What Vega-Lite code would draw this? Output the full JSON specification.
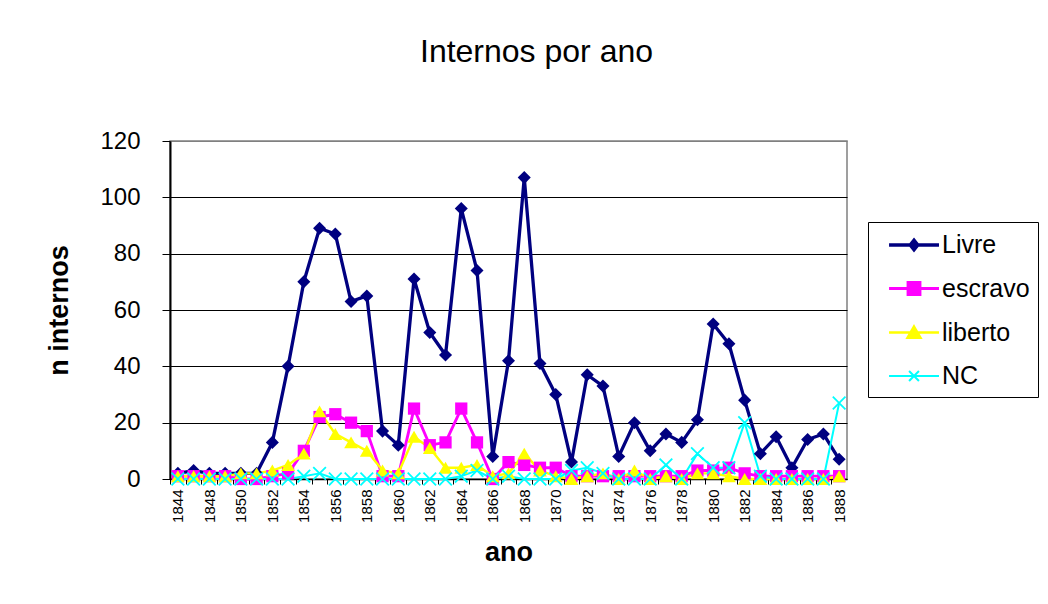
{
  "$schema": "https://vega.github.io/schema/vega-lite/v6.json",
  "autosize": "none",
  "width": 677,
  "height": 338,
  "padding": {"left": 170, "top": 141, "right": 201, "bottom": 125},
  "background": "white",
  "title": {
    "text": "Internos por ano",
    "font": "Liberation Sans",
    "fontSize": 32,
    "fontWeight": "normal",
    "color": "black",
    "anchor": "middle",
    "dx": 28,
    "offset": 60
  },
  "data": {
    "values": [
      {"ano": 1844, "Livre": 2, "escravo": 1, "liberto": 1, "NC": 0},
      {"ano": 1845, "Livre": 3, "escravo": 1, "liberto": 1, "NC": 0},
      {"ano": 1848, "Livre": 2, "escravo": 1, "liberto": 1, "NC": 0},
      {"ano": 1849, "Livre": 2, "escravo": 1, "liberto": 1, "NC": 0},
      {"ano": 1850, "Livre": 2, "escravo": 0, "liberto": 2, "NC": 0},
      {"ano": 1851, "Livre": 2, "escravo": 0, "liberto": 2, "NC": 0},
      {"ano": 1852, "Livre": 13, "escravo": 1, "liberto": 3, "NC": 0},
      {"ano": 1853, "Livre": 40, "escravo": 2, "liberto": 5, "NC": 0},
      {"ano": 1854, "Livre": 70, "escravo": 10, "liberto": 9, "NC": 1},
      {"ano": 1855, "Livre": 89, "escravo": 22, "liberto": 24, "NC": 2},
      {"ano": 1856, "Livre": 87, "escravo": 23, "liberto": 16, "NC": 0},
      {"ano": 1857, "Livre": 63, "escravo": 20, "liberto": 13, "NC": 0},
      {"ano": 1858, "Livre": 65, "escravo": 17, "liberto": 10, "NC": 0},
      {"ano": 1859, "Livre": 17, "escravo": 1, "liberto": 3, "NC": 0},
      {"ano": 1860, "Livre": 12, "escravo": 1, "liberto": 2, "NC": 0},
      {"ano": 1861, "Livre": 71, "escravo": 25, "liberto": 15, "NC": 0},
      {"ano": 1862, "Livre": 52, "escravo": 12, "liberto": 11, "NC": 0},
      {"ano": 1863, "Livre": 44, "escravo": 13, "liberto": 4, "NC": 0},
      {"ano": 1864, "Livre": 96, "escravo": 25, "liberto": 4, "NC": 1},
      {"ano": 1865, "Livre": 74, "escravo": 13, "liberto": 5, "NC": 3},
      {"ano": 1866, "Livre": 8, "escravo": 0, "liberto": 1, "NC": 0},
      {"ano": 1867, "Livre": 42, "escravo": 6, "liberto": 2, "NC": 1},
      {"ano": 1868, "Livre": 107, "escravo": 5, "liberto": 9, "NC": 0},
      {"ano": 1869, "Livre": 41, "escravo": 4, "liberto": 3, "NC": 0},
      {"ano": 1870, "Livre": 30, "escravo": 4, "liberto": 1, "NC": 0},
      {"ano": 1871, "Livre": 6, "escravo": 1, "liberto": 0, "NC": 3},
      {"ano": 1872, "Livre": 37, "escravo": 1, "liberto": 1, "NC": 4},
      {"ano": 1873, "Livre": 33, "escravo": 1, "liberto": 2, "NC": 2},
      {"ano": 1874, "Livre": 8, "escravo": 1, "liberto": 0, "NC": 0},
      {"ano": 1875, "Livre": 20, "escravo": 1, "liberto": 3, "NC": 0},
      {"ano": 1876, "Livre": 10, "escravo": 1, "liberto": 0, "NC": 0},
      {"ano": 1877, "Livre": 16, "escravo": 1, "liberto": 1, "NC": 5},
      {"ano": 1878, "Livre": 13, "escravo": 1, "liberto": 0, "NC": 0},
      {"ano": 1879, "Livre": 21, "escravo": 3, "liberto": 2, "NC": 9},
      {"ano": 1880, "Livre": 55, "escravo": 3, "liberto": 2, "NC": 4},
      {"ano": 1881, "Livre": 48, "escravo": 4, "liberto": 1, "NC": 4},
      {"ano": 1882, "Livre": 28, "escravo": 2, "liberto": 0, "NC": 20},
      {"ano": 1883, "Livre": 9, "escravo": 1, "liberto": 0, "NC": 1},
      {"ano": 1884, "Livre": 15, "escravo": 1, "liberto": 0, "NC": 0},
      {"ano": 1885, "Livre": 4, "escravo": 1, "liberto": 0, "NC": 0},
      {"ano": 1886, "Livre": 14, "escravo": 1, "liberto": 0, "NC": 0},
      {"ano": 1887, "Livre": 16, "escravo": 1, "liberto": 0, "NC": 0},
      {"ano": 1888, "Livre": 7, "escravo": 1, "liberto": 1, "NC": 27}
    ]
  },
  "transform": [
    {"fold": ["Livre", "escravo", "liberto", "NC"], "as": ["serie", "n"]}
  ],
  "encoding": {
    "x": {
      "field": "ano",
      "type": "ordinal",
      "scale": {"type": "point", "padding": 0.5},
      "axis": {
        "title": "ano",
        "titleFont": "Liberation Sans",
        "titleFontSize": 27,
        "titleFontWeight": "bold",
        "titleColor": "black",
        "titleBaseline": "middle",
        "titleY": 73,
        "labelAngle": -90,
        "labelFont": "Liberation Sans",
        "labelFontSize": 15,
        "labelColor": "black",
        "labelPadding": 5,
        "labelOverlap": false,
        "labelExpr": "datum.value % 2 == 0 ? datum.label : ''",
        "tickOffset": -7.87,
        "labelOffset": 7.87,
        "tickSize": 5,
        "tickColor": "black",
        "domainColor": "black",
        "domainWidth": 1.5,
        "grid": false
      }
    },
    "y": {
      "field": "n",
      "type": "quantitative",
      "scale": {"domain": [0, 120], "nice": false},
      "axis": {
        "title": "n internos",
        "titleFont": "Liberation Sans",
        "titleFontSize": 27,
        "titleFontWeight": "bold",
        "titleColor": "black",
        "titleAngle": -90,
        "titleBaseline": "middle",
        "titleAlign": "center",
        "titleX": -111,
        "titleY": 169,
        "values": [0, 20, 40, 60, 80, 100, 120],
        "labelFont": "Liberation Sans",
        "labelFontSize": 24,
        "labelColor": "black",
        "labelPadding": 22,
        "tickSize": 8,
        "tickColor": "black",
        "domainColor": "black",
        "domainWidth": 2,
        "grid": true,
        "gridColor": {"condition": {"test": "datum.value == 120", "value": "#808080"}, "value": "black"},
        "gridWidth": 1.2
      }
    },
    "color": {
      "field": "serie",
      "type": "nominal",
      "scale": {
        "domain": ["Livre", "escravo", "liberto", "NC"],
        "range": ["#000080", "#FF00FF", "#FFFF00", "#00FFFF"]
      },
      "legend": {
        "title": null,
        "orient": "none",
        "legendX": 698,
        "legendY": 81,
        "strokeColor": "black",
        "fillColor": "white",
        "padding": 8,
        "labelFont": "Liberation Sans",
        "labelFontSize": 25,
        "labelColor": "black",
        "labelOffset": 36,
        "rowPadding": 16,
        "symbolSize": 676,
        "symbolStrokeWidth": 2.5,
        "symbolType": "M-0.15,0H3.69",
        "encode": {
          "symbols": {
            "update": {
              "shape": {"signal": "datum.value === 'Livre' ? 'M-0.15,0H3.69M1.47,0L1.77,-0.38L2.07,0L1.77,0.38Z' : datum.value === 'escravo' ? 'M-0.15,0H3.69M1.31,-0.46H2.23V0.46H1.31Z' : datum.value === 'liberto' ? 'M-0.15,0H3.69M1.77,-0.46L2.27,0.4H1.27Z' : 'M-0.15,0H3.69M1.39,-0.38L2.15,0.38M2.15,-0.38L1.39,0.38'"},
              "fill": {"scale": "color", "field": "value"},
              "stroke": {"scale": "color", "field": "value"},
              "fillOpacity": {"value": 1},
              "strokeWidth": {"value": 2.5}
            }
          }
        }
      }
    }
  },
  "layer": [
    {
      "mark": {"type": "line", "strokeJoin": "round"},
      "encoding": {
        "strokeWidth": {
          "field": "serie",
          "type": "ordinal",
          "scale": {"domain": ["Livre", "escravo", "liberto", "NC"], "range": [3.3, 2, 2, 2]},
          "legend": null
        }
      }
    },
    {
      "transform": [{"filter": "datum.serie == 'Livre'"}],
      "mark": {"type": "point", "filled": true, "opacity": 1, "size": 170, "shape": "diamond"}
    },
    {
      "transform": [{"filter": "datum.serie == 'escravo'"}],
      "mark": {"type": "point", "filled": true, "opacity": 1, "size": 150, "shape": "square"}
    },
    {
      "transform": [{"filter": "datum.serie == 'liberto'"}],
      "mark": {"type": "point", "filled": true, "opacity": 1, "size": 190, "shape": "triangle-up"}
    },
    {
      "transform": [{"filter": "datum.serie == 'NC'"}],
      "mark": {"type": "point", "filled": false, "opacity": 1, "size": 160, "strokeWidth": 1.8, "shape": "M-1,-1L1,1M1,-1L-1,1"}
    }
  ],
  "config": {
    "font": "Liberation Sans",
    "view": {"stroke": "#808080", "strokeWidth": 1.5}
  }
}
